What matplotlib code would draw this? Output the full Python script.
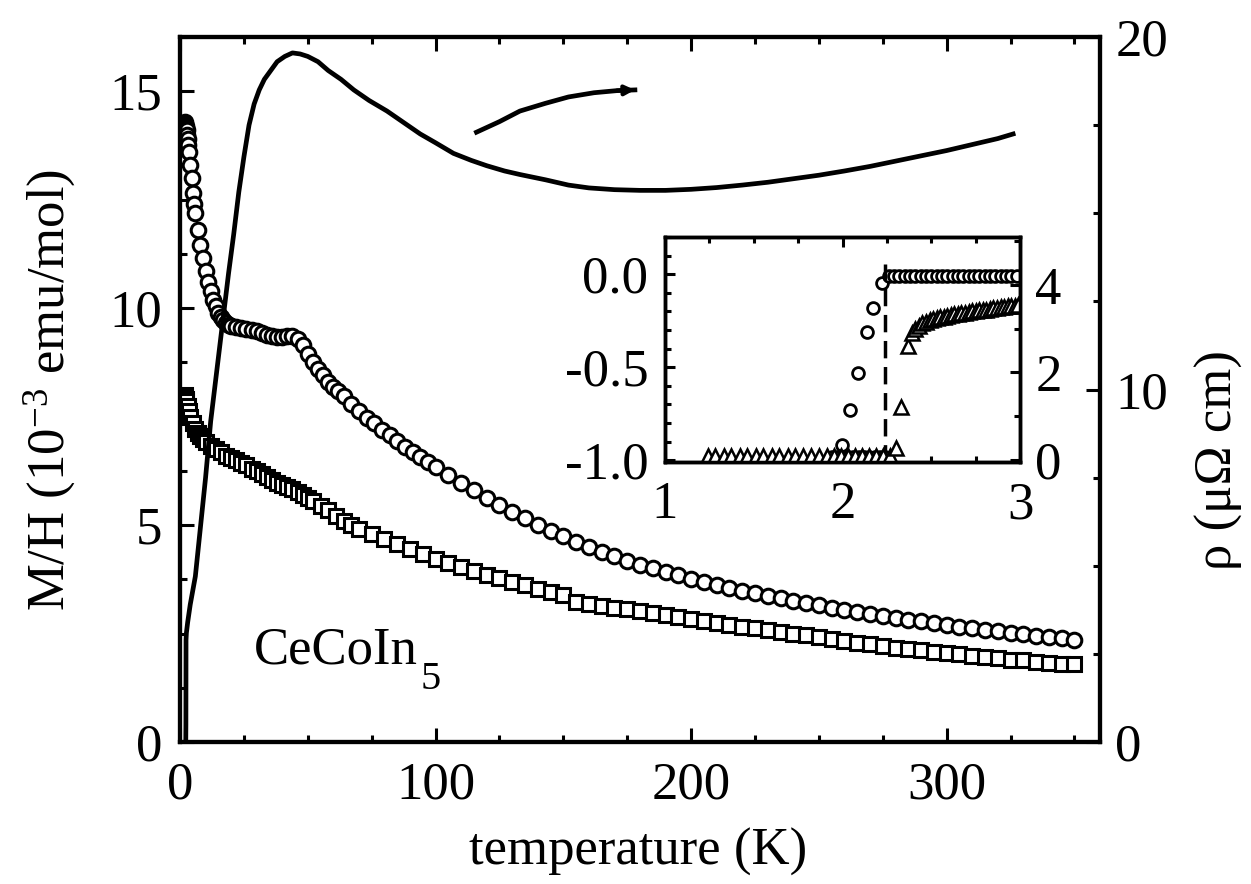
import matplotlib
matplotlib.use("Agg")
import matplotlib.pyplot as plt
from matplotlib.ticker import MultipleLocator, FixedLocator, FixedFormatter

plt.rcParams['font.family'] = ['Liberation Serif', 'DejaVu Serif']
plt.rcParams['mathtext.fontset'] = 'custom'
plt.rcParams['mathtext.rm'] = 'Liberation Serif'
plt.rcParams['mathtext.it'] = 'Liberation Serif:italic'
plt.rcParams['axes.unicode_minus'] = False

# M/H, field along c (circles)
t_circ = [1.8, 2.0, 2.2, 2.4, 2.6, 2.8, 3.0, 3.2, 3.5, 4.0, 4.5, 5.0, 5.5, 6.0, 7.0, 8.0,
          9.0, 10, 11, 12, 13, 14, 15, 16, 17, 18, 19, 20, 22, 24, 26, 28, 30, 32, 34,
          36, 38, 40, 42, 44, 46, 48, 50, 52, 54, 56, 58, 60, 62, 64, 67, 70, 73, 76,
          79, 82, 85, 88, 91, 94, 97, 100, 105, 110, 115, 120, 125, 130, 135, 140, 145,
          150, 155, 160, 165, 170, 175, 180, 185, 190, 195, 200, 205, 210, 215, 220,
          225, 230, 235, 240, 245, 250, 255, 260, 265, 270, 275, 280, 285, 290, 295,
          300, 305, 310, 315, 320, 325, 330, 335, 340, 345, 350]
mh_circ = [14.3, 14.25, 14.2, 14.15, 14.1, 14.0, 13.9, 13.75, 13.6, 13.3, 13.0, 12.65, 12.4,
           12.2, 11.8, 11.45, 11.15, 10.85, 10.6, 10.4, 10.2, 10.05, 9.9, 9.8, 9.72, 9.66,
           9.62, 9.6, 9.57, 9.55, 9.52, 9.5, 9.47, 9.43, 9.38, 9.35, 9.33, 9.34, 9.36,
           9.36, 9.3, 9.15, 8.95, 8.75, 8.6, 8.45, 8.3, 8.18, 8.08, 7.98, 7.8, 7.62, 7.48,
           7.35, 7.2, 7.07, 6.93, 6.8, 6.68, 6.56, 6.45, 6.34, 6.15, 5.97, 5.8, 5.63,
           5.47, 5.31, 5.16, 5.01, 4.87, 4.74, 4.61, 4.49, 4.38, 4.28, 4.18, 4.09, 4.0,
           3.92, 3.84, 3.76, 3.69, 3.62, 3.55, 3.49, 3.43, 3.37, 3.31, 3.26, 3.2, 3.15,
           3.1, 3.05, 3.0, 2.95, 2.91, 2.86, 2.82, 2.78, 2.74, 2.7, 2.66, 2.62, 2.58,
           2.55, 2.51, 2.48, 2.45, 2.42, 2.39, 2.36]

# M/H, field in plane (squares)
t_sq = [1.8, 2.0, 2.2, 2.5, 3.0, 3.5, 4.0, 5.0, 6.0, 7.0, 8.0, 9.0, 10, 12, 14, 16, 18, 20,
        22, 24, 26, 28, 30, 32, 34, 36, 38, 40, 42, 44, 46, 48, 50, 52, 55, 58, 61, 64,
        67, 70, 75, 80, 85, 90, 95, 100, 105, 110, 115, 120, 125, 130, 135, 140, 145,
        150, 155, 160, 165, 170, 175, 180, 185, 190, 195, 200, 205, 210, 215, 220, 225,
        230, 235, 240, 245, 250, 255, 260, 265, 270, 275, 280, 285, 290, 295, 300, 305,
        310, 315, 320, 325, 330, 335, 340, 345, 350]
mh_sq = [8.0, 7.95, 7.9, 7.85, 7.75, 7.62, 7.5, 7.35, 7.22, 7.12, 7.05, 6.98, 6.92, 6.82,
         6.75, 6.68, 6.6, 6.55, 6.5, 6.44, 6.38, 6.3, 6.24, 6.18, 6.1, 6.04, 5.98, 5.93,
         5.88, 5.83, 5.77, 5.7, 5.62, 5.55, 5.45, 5.35, 5.2, 5.1, 5.0, 4.92, 4.8, 4.68,
         4.56, 4.44, 4.33, 4.22, 4.13, 4.03, 3.94, 3.86, 3.77, 3.7, 3.62, 3.52, 3.45,
         3.38, 3.22, 3.18, 3.14, 3.1, 3.06, 3.02, 2.98, 2.93, 2.88, 2.84, 2.79, 2.75,
         2.7, 2.66, 2.62, 2.58, 2.54, 2.5, 2.46, 2.42, 2.38, 2.34, 2.29, 2.25, 2.21,
         2.17, 2.14, 2.11, 2.08, 2.05, 2.02, 1.99, 1.96, 1.93, 1.9, 1.88, 1.85, 1.83,
         1.81, 1.79]

# resistivity (right axis)
t_rho = [2.25, 2.3, 2.35, 2.5, 3.0, 4.0, 6.0, 8.0, 10, 12, 13.5, 15, 17, 19, 21, 23, 25,
         27, 29, 31, 33, 35, 38, 41, 44, 47, 50, 54, 58, 63, 68, 74, 81, 88, 94, 100, 107,
         114, 120, 127, 133, 143, 152, 160, 170, 180, 190, 200, 210, 220, 230, 240, 250,
         260, 270, 280, 290, 300, 310, 320, 326]
rho = [0.0, 0.5, 2.9, 3.1, 3.4, 3.9, 4.7, 6.1, 7.5, 9.1, 10.0, 10.9, 12.1, 13.3, 14.4,
       15.6, 16.6, 17.5, 18.1, 18.5, 18.8, 19.0, 19.3, 19.45, 19.55, 19.52, 19.45, 19.3,
       19.05, 18.8, 18.5, 18.2, 17.9, 17.55, 17.25, 17.0, 16.7, 16.5, 16.35, 16.2, 16.1,
       15.95, 15.8, 15.72, 15.67, 15.65, 15.65, 15.68, 15.73, 15.8, 15.88, 15.98, 16.08,
       16.2, 16.33, 16.48, 16.63, 16.78, 16.95, 17.12, 17.25]

# short arrow pointing to the right axis
t_arrow = [116, 125, 133, 143, 152, 162, 171, 178]
rho_arrow = [17.3, 17.6, 17.9, 18.12, 18.3, 18.42, 18.48, 18.5]

# inset: normalised magnetisation (circles, left) and resistivity (triangles, right)
ti_circ = [1.94, 1.97, 2.0, 2.03, 2.06, 2.09, 2.12, 2.15, 2.18, 2.21, 2.24,
           1.995, 2.04, 2.085, 2.135, 2.17, 2.22,
           2.26, 2.29, 2.32, 2.35, 2.38, 2.41, 2.44, 2.47, 2.50, 2.53, 2.56, 2.59, 2.62,
           2.65, 2.68, 2.71, 2.74, 2.77, 2.80, 2.83, 2.86, 2.89, 2.92, 2.95, 2.98]
mi_circ = [-0.985, -0.985, -0.985, -0.985, -0.985, -0.985, -0.985, -0.985, -0.985, -0.985,
           -0.985,
           -0.92, -0.73, -0.53, -0.31, -0.18, -0.05,
           -0.01, -0.01, -0.01, -0.01, -0.01, -0.01, -0.01, -0.01, -0.01, -0.01, -0.01,
           -0.01, -0.01, -0.01, -0.01, -0.01, -0.01, -0.01, -0.01, -0.01, -0.01, -0.01,
           -0.01, -0.01, -0.01]
ti_tri = [1.24, 1.28, 1.33, 1.37, 1.42, 1.46, 1.51, 1.55, 1.60, 1.64, 1.69, 1.73, 1.78,
          1.82, 1.87, 1.91, 1.95, 1.99, 2.03, 2.07, 2.11, 2.15, 2.19, 2.23, 2.27,
          2.30, 2.33, 2.37, 2.39, 2.41, 2.43, 2.45, 2.47, 2.49, 2.51, 2.53, 2.55, 2.57,
          2.59, 2.61, 2.63, 2.65, 2.67, 2.69, 2.71, 2.73, 2.75, 2.77, 2.79, 2.81, 2.83,
          2.85, 2.87, 2.89, 2.91, 2.93, 2.95, 2.97, 2.99]
ri_tri = [0.08, 0.08, 0.08, 0.08, 0.08, 0.08, 0.08, 0.08, 0.08, 0.08, 0.08, 0.08, 0.08,
          0.08, 0.08, 0.08, 0.08, 0.08, 0.08, 0.08, 0.08, 0.08, 0.08, 0.08, 0.08,
          0.27, 1.2, 2.6, 2.9, 3.0, 3.07, 3.12, 3.16, 3.19, 3.22, 3.24, 3.26, 3.28,
          3.3, 3.31, 3.33, 3.34, 3.36, 3.37, 3.38, 3.4, 3.41, 3.42, 3.43, 3.44, 3.46,
          3.47, 3.48, 3.49, 3.5, 3.51, 3.52, 3.53, 3.54]
t_c = 2.24

fig = plt.figure(figsize=(12.51, 8.84), dpi=100)
ax = fig.add_axes([0.1439, 0.1606, 0.7354, 0.7975])
ax2 = ax.twinx()

ax.plot(t_circ, mh_circ, 'o', ms=10.5, mfc='white', mec='black', mew=2.2, zorder=3)
ax.plot(t_sq, mh_sq, 's', ms=10, mfc='white', mec='black', mew=2.2, zorder=3)
ax2.plot(t_rho, rho, '-', color='black', lw=3.4)
ax2.plot(t_arrow, rho_arrow, '-', color='black', lw=3.4)
ax2.annotate('', xy=(t_arrow[-1], rho_arrow[-1]), xytext=(t_arrow[-2], rho_arrow[-2]),
             arrowprops=dict(arrowstyle='-|>', color='black', lw=3, mutation_scale=14,
                             shrinkA=0, shrinkB=0))

ax.set_xlim(0, 360)
ax.set_ylim(0, 16.25)
ax2.set_ylim(0, 20)

ax.xaxis.set_major_locator(MultipleLocator(100))
ax.xaxis.set_minor_locator(MultipleLocator(25))
ax.yaxis.set_major_locator(MultipleLocator(5))
ax.yaxis.set_minor_locator(MultipleLocator(1.25))
ax2.yaxis.set_major_locator(MultipleLocator(10))
ax2.yaxis.set_minor_locator(MultipleLocator(2.5))

fs = 38
ax.tick_params(which='both', direction='in', top=True, right=False, width=2.2,
               labelsize=fs)
ax.tick_params(which='major', length=10)
ax.tick_params(which='minor', length=5)
ax.tick_params(axis='x', pad=14)
ax.tick_params(axis='y', pad=13)
ax2.tick_params(which='both', direction='in', width=2.2, labelsize=fs, pad=11)
ax2.tick_params(which='major', length=10)
ax2.tick_params(which='minor', length=5)
for a in (ax, ax2):
    for s in a.spines.values():
        s.set_linewidth(3)

ax.set_xlabel('temperature (K)', fontsize=38)
ax.xaxis.set_label_coords(0.498, -0.122)
ax.set_ylabel('M/H (10$^{-3}$ emu/mol)', fontsize=38)
ax.yaxis.set_label_coords(-0.111, 0.5)
ax2.set_ylabel('\u03c1 (\u03bc\u03a9 cm)', fontsize=38, rotation=90)
ax2.yaxis.set_label_coords(1.103, 0.40)

name = ax.text(29, 1.8, 'CeCoIn', fontsize=38, va='baseline')
ax.annotate('5', xy=(1.0, 0.0), xycoords=name, xytext=(2, 10),
            textcoords='offset points', fontsize=29, va='top', ha='left')

# inset
ins = fig.add_axes([0.5316, 0.4774, 0.2838, 0.2545])
ins.set_facecolor('white')
ins2 = ins.twinx()
ins.plot(ti_circ, mi_circ, 'o', ms=8.5, mfc='white', mec='black', mew=2.0)
ins2.plot(ti_tri, ri_tri, '^', ms=10, mfc='white', mec='black', mew=1.8)
ins.axvline(t_c, ymin=0, ymax=0.88, color='black', lw=2.5, dashes=(5, 2.5))

ins.set_xlim(1, 3)
ins.set_ylim(-1.01, 0.2)
ins2.set_ylim(-0.05, 5.1)
ins.xaxis.set_major_locator(FixedLocator([1, 2, 3]))
ins.xaxis.set_major_formatter(FixedFormatter(['1', '2', '3']))
ins.xaxis.set_minor_locator(MultipleLocator(0.25))
ins.yaxis.set_major_locator(FixedLocator([-1.0, -0.5, 0.0]))
ins.yaxis.set_major_formatter(FixedFormatter(['-1.0', '-0.5', '0.0']))
ins.yaxis.set_minor_locator(MultipleLocator(0.1))
ins2.yaxis.set_major_locator(FixedLocator([0, 2, 4]))
ins2.yaxis.set_major_formatter(FixedFormatter(['0', '2', '4']))
ins2.yaxis.set_minor_locator(MultipleLocator(1))

ins.tick_params(which='both', direction='in', top=True, right=False, width=2.2,
                labelsize=fs)
ins.tick_params(which='major', length=7)
ins.tick_params(which='minor', length=4.5)
ins.tick_params(axis='x', pad=14)
ins.tick_params(axis='y', pad=12)
ins2.tick_params(which='both', direction='in', width=2.2, labelsize=fs, pad=11)
ins2.tick_params(which='major', length=7)
ins2.tick_params(which='minor', length=4.5)
for a in (ins, ins2):
    for s in a.spines.values():
        s.set_linewidth(2.5)

fig.savefig('out.png', dpi=100, facecolor='white')
